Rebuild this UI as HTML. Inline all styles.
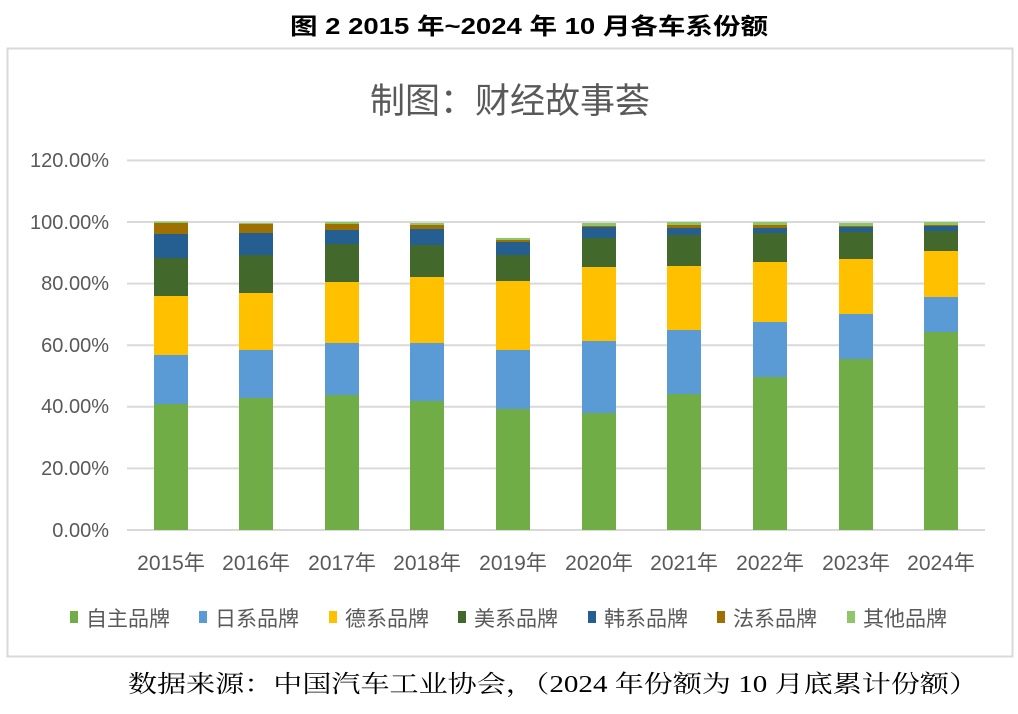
<!DOCTYPE html>
<html><head><meta charset="utf-8"><style>
body{margin:0;background:#fff;width:1018px;height:709px;overflow:hidden}
text{font-family:"Liberation Sans","Noto Sans CJK SC",sans-serif}
</style></head><body>
<svg width="1018" height="709" xmlns="http://www.w3.org/2000/svg">
<text x="290" y="34" font-size="23" font-weight="bold" fill="#000" textLength="478" lengthAdjust="spacingAndGlyphs">图 2 2015 年~2024 年 10 月各车系份额</text>
<rect x="7.5" y="48.5" width="1005" height="608" fill="#fff" stroke="#d9d9d9" stroke-width="2"/>
<text x="510" y="113" text-anchor="middle" font-size="35" fill="#595959">制图：财经故事荟</text>
<g stroke="#d9d9d9" stroke-width="2">
<line x1="127" x2="985" y1="160.4" y2="160.4"/><line x1="127" x2="985" y1="222" y2="222"/>
<line x1="127" x2="985" y1="283.6" y2="283.6"/><line x1="127" x2="985" y1="345.2" y2="345.2"/>
<line x1="127" x2="985" y1="406.8" y2="406.8"/><line x1="127" x2="985" y1="468.4" y2="468.4"/>
<line x1="127" x2="985" y1="530" y2="530"/></g>
<g font-size="20" fill="#595959" text-anchor="end">
<text x="109" y="167">120.00%</text><text x="109" y="229">100.00%</text><text x="109" y="290">80.00%</text>
<text x="109" y="352">60.00%</text><text x="109" y="413">40.00%</text><text x="109" y="475">20.00%</text><text x="109" y="537">0.00%</text></g>
<g>
<rect x="154" y="404" width="34" height="126" fill="#70ad47"/><rect x="154" y="355" width="34" height="49" fill="#5b9bd5"/><rect x="154" y="296" width="34" height="59" fill="#ffc000"/><rect x="154" y="258" width="34" height="38" fill="#43682b"/><rect x="154" y="234" width="34" height="24" fill="#255e91"/><rect x="154" y="223" width="34" height="11" fill="#9e7000"/><rect x="154" y="221.5" width="34" height="1.5" fill="#8fc66a"/>
<rect x="239" y="398" width="34" height="132" fill="#70ad47"/><rect x="239" y="350" width="34" height="48" fill="#5b9bd5"/><rect x="239" y="293" width="34" height="57" fill="#ffc000"/><rect x="239" y="255" width="34" height="38" fill="#43682b"/><rect x="239" y="233" width="34" height="22" fill="#255e91"/><rect x="239" y="224" width="34" height="9" fill="#9e7000"/><rect x="239" y="223" width="34" height="1" fill="#8fc66a"/>
<rect x="325" y="395" width="34" height="135" fill="#70ad47"/><rect x="325" y="343" width="34" height="52" fill="#5b9bd5"/><rect x="325" y="282" width="34" height="61" fill="#ffc000"/><rect x="325" y="244" width="34" height="38" fill="#43682b"/><rect x="325" y="230" width="34" height="14" fill="#255e91"/><rect x="325" y="224" width="34" height="6" fill="#9e7000"/><rect x="325" y="222" width="34" height="2" fill="#8fc66a"/>
<rect x="410" y="401" width="34" height="129" fill="#70ad47"/><rect x="410" y="343" width="34" height="58" fill="#5b9bd5"/><rect x="410" y="277" width="34" height="66" fill="#ffc000"/><rect x="410" y="245" width="34" height="32" fill="#43682b"/><rect x="410" y="229" width="34" height="16" fill="#255e91"/><rect x="410" y="225" width="34" height="4" fill="#9e7000"/><rect x="410" y="223" width="34" height="2" fill="#8fc66a"/>
<rect x="496" y="409" width="34" height="121" fill="#70ad47"/><rect x="496" y="350" width="34" height="59" fill="#5b9bd5"/><rect x="496" y="281" width="34" height="69" fill="#ffc000"/><rect x="496" y="255" width="34" height="26" fill="#43682b"/><rect x="496" y="242" width="34" height="13" fill="#255e91"/><rect x="496" y="240" width="34" height="2" fill="#9e7000"/><rect x="496" y="238" width="34" height="2" fill="#8fc66a"/>
<rect x="582" y="413" width="34" height="117" fill="#70ad47"/><rect x="582" y="341" width="34" height="72" fill="#5b9bd5"/><rect x="582" y="267" width="34" height="74" fill="#ffc000"/><rect x="582" y="238" width="34" height="29" fill="#43682b"/><rect x="582" y="227" width="34" height="11" fill="#255e91"/><rect x="582" y="226" width="34" height="1" fill="#9e7000"/><rect x="582" y="223" width="34" height="3" fill="#8fc66a"/>
<rect x="667" y="394" width="34" height="136" fill="#70ad47"/><rect x="667" y="330" width="34" height="64" fill="#5b9bd5"/><rect x="667" y="266" width="34" height="64" fill="#ffc000"/><rect x="667" y="235" width="34" height="31" fill="#43682b"/><rect x="667" y="228" width="34" height="7" fill="#255e91"/><rect x="667" y="225" width="34" height="3" fill="#9e7000"/><rect x="667" y="222" width="34" height="3" fill="#8fc66a"/>
<rect x="753" y="377" width="34" height="153" fill="#70ad47"/><rect x="753" y="322" width="34" height="55" fill="#5b9bd5"/><rect x="753" y="262" width="34" height="60" fill="#ffc000"/><rect x="753" y="233" width="34" height="29" fill="#43682b"/><rect x="753" y="228" width="34" height="5" fill="#255e91"/><rect x="753" y="225" width="34" height="3" fill="#9e7000"/><rect x="753" y="222" width="34" height="3" fill="#8fc66a"/>
<rect x="839" y="359" width="34" height="171" fill="#70ad47"/><rect x="839" y="314" width="34" height="45" fill="#5b9bd5"/><rect x="839" y="259" width="34" height="55" fill="#ffc000"/><rect x="839" y="232" width="34" height="27" fill="#43682b"/><rect x="839" y="227" width="34" height="5" fill="#255e91"/><rect x="839" y="226" width="34" height="1" fill="#9e7000"/><rect x="839" y="223" width="34" height="3" fill="#8fc66a"/>
<rect x="924" y="332" width="34" height="198" fill="#70ad47"/><rect x="924" y="297" width="34" height="35" fill="#5b9bd5"/><rect x="924" y="251" width="34" height="46" fill="#ffc000"/><rect x="924" y="231" width="34" height="20" fill="#43682b"/><rect x="924" y="226" width="34" height="5" fill="#255e91"/><rect x="924" y="225" width="34" height="1" fill="#9e7000"/><rect x="924" y="222" width="34" height="3" fill="#8fc66a"/>
</g>
<g font-size="21" fill="#595959" text-anchor="middle">
<text x="171" y="570">2015年</text><text x="256" y="570">2016年</text><text x="342" y="570">2017年</text>
<text x="427" y="570">2018年</text><text x="513" y="570">2019年</text><text x="599" y="570">2020年</text>
<text x="684" y="570">2021年</text><text x="770" y="570">2022年</text><text x="856" y="570">2023年</text><text x="941" y="570">2024年</text></g>
<g font-size="21" fill="#595959">
<rect x="70" y="611" width="8" height="12" fill="#70ad47"/><text x="86" y="626">自主品牌</text>
<rect x="199" y="611" width="8" height="12" fill="#5b9bd5"/><text x="215" y="626">日系品牌</text>
<rect x="329" y="611" width="8" height="12" fill="#ffc000"/><text x="345" y="626">德系品牌</text>
<rect x="458" y="611" width="8" height="12" fill="#43682b"/><text x="474" y="626">美系品牌</text>
<rect x="588" y="611" width="8" height="12" fill="#255e91"/><text x="604" y="626">韩系品牌</text>
<rect x="717" y="611" width="8" height="12" fill="#9e7000"/><text x="733" y="626">法系品牌</text>
<rect x="847" y="611" width="8" height="12" fill="#8fc66a"/><text x="863" y="626">其他品牌</text>
</g>
<text x="128" y="692" font-size="24" fill="#000" textLength="850" lengthAdjust="spacingAndGlyphs" style='font-family:"Liberation Serif","Noto Serif CJK SC",serif'>数据来源：中国汽车工业协会，（2024 年份额为 10 月底累计份额）</text>
</svg>
</body></html>
